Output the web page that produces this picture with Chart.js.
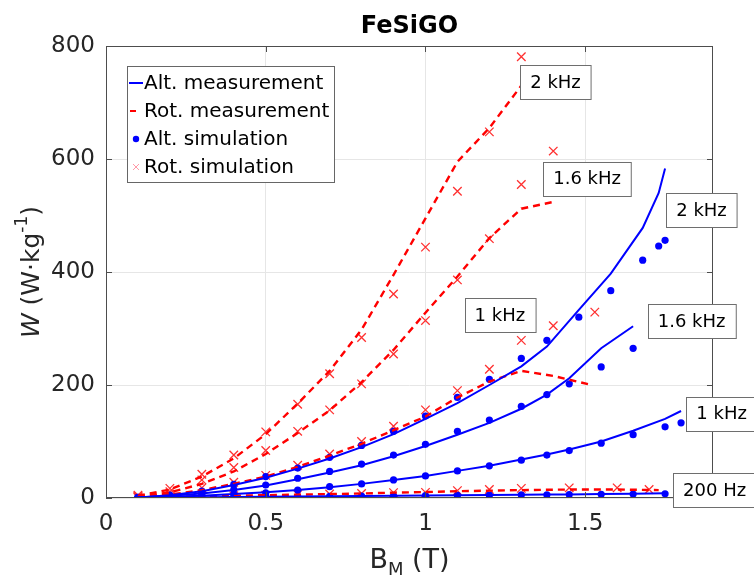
<!DOCTYPE html>
<html>
<head>
<meta charset="utf-8">
<title>FeSiGO</title>
<script src="https://cdn.jsdelivr.net/npm/chart.js@4.4.1/dist/chart.umd.min.js"></script>
<style>
  html, body { margin: 0; padding: 0; background: #fff; }
  #wrap { width: 754px; height: 583px; }
</style>
</head>
<body>
<div id="wrap"><canvas id="lossChart" width="754" height="583"></canvas></div>
<script>
// axis ticks
var xTicks = [0, 0.5, 1, 1.5];
var yTicks = [0, 200, 400, 600, 800];

// alternating field, measurement (solid blue lines)
var altMeas200B = [0.1, 0.2, 0.3, 0.4, 0.5, 0.6, 0.7, 0.8, 0.9, 1.0, 1.1, 1.2, 1.3, 1.38, 1.45, 1.55, 1.65, 1.75];
var altMeas200W = [0.3, 0.8, 1.3, 1.8, 2.3, 2.8, 3.2, 3.6, 4.0, 4.4, 4.8, 5.2, 5.6, 6.0, 6.4, 7.0, 7.6, 8.2];
var altMeas1kB = [0.1, 0.2, 0.3, 0.4, 0.5, 0.6, 0.7, 0.8, 0.9, 1.0, 1.1, 1.2, 1.3, 1.38, 1.45, 1.55, 1.65, 1.75, 1.8];
var altMeas1kW = [0.5, 2, 4, 7, 10, 14, 19, 25, 32, 39, 48, 57, 68, 77, 86, 100, 119, 140, 154];
var altMeas16B = [0.1, 0.2, 0.3, 0.4, 0.5, 0.6, 0.7, 0.8, 0.9, 1.0, 1.1, 1.2, 1.3, 1.38, 1.45, 1.55, 1.65];
var altMeas16W = [1, 4, 8, 14, 22, 33, 45, 58, 74, 92, 112, 133, 158, 183, 212, 265, 304];
var altMeas2kB = [0.1, 0.2, 0.3, 0.4, 0.5, 0.6, 0.7, 0.8, 0.9, 1.0, 1.1, 1.2, 1.3, 1.38, 1.48, 1.58, 1.68, 1.73, 1.75];
var altMeas2kW = [1, 5, 12, 23, 36, 52, 70, 90, 113, 140, 168, 200, 233, 268, 333, 397, 478, 540, 583];

// alternating field, simulation (blue dots)
var altSim200B = [0.1, 0.2, 0.3, 0.4, 0.5, 0.6, 0.7, 0.8, 0.9, 1.0, 1.1, 1.2, 1.3, 1.38, 1.45, 1.55, 1.65, 1.75];
var altSim200W = [0.3, 0.7, 1.2, 1.7, 2.2, 2.6, 3.0, 3.4, 3.8, 4.2, 4.6, 5.0, 5.4, 5.7, 6.0, 6.5, 7.0, 7.5];
var altSim1kB = [0.1, 0.2, 0.3, 0.4, 0.5, 0.6, 0.7, 0.8, 0.9, 1.0, 1.1, 1.2, 1.3, 1.38, 1.45, 1.55, 1.65, 1.75, 1.8];
var altSim1kW = [0.5, 2, 4, 6, 9, 14, 20, 25, 32, 39, 48, 57, 67, 76, 84, 97, 112, 126, 133];
var altSim16B = [0.1, 0.2, 0.3, 0.4, 0.5, 0.6, 0.7, 0.8, 0.9, 1.0, 1.1, 1.2, 1.3, 1.38, 1.45, 1.55, 1.65];
var altSim16W = [1, 3, 7, 15, 23, 35, 47, 60, 76, 95, 118, 138, 162, 183, 202, 232, 265];
var altSim2kB = [0.1, 0.2, 0.3, 0.4, 0.5, 0.6, 0.7, 0.8, 0.9, 1.0, 1.1, 1.2, 1.3, 1.38, 1.48, 1.58, 1.68, 1.73, 1.75];
var altSim2kW = [1, 5, 12, 24, 38, 53, 72, 93, 118, 145, 178, 210, 247, 279, 320, 367, 421, 446, 456];

// rotational field, measurement (dashed red lines)
var rotMeas200B = [0.1, 0.2, 0.3, 0.4, 0.5, 0.6, 0.7, 0.8, 0.9, 1.0, 1.1, 1.2, 1.3, 1.45, 1.6, 1.73];
var rotMeas200W = [1, 2, 3, 4, 5, 6, 7, 8, 9.5, 10.5, 12, 13, 14, 15, 15, 14];
var rotMeas1kB = [0.1, 0.2, 0.3, 0.4, 0.5, 0.6, 0.7, 0.8, 0.9, 1.0, 1.1, 1.2, 1.3, 1.4, 1.52];
var rotMeas1kW = [2, 6, 14, 25, 38, 55, 75, 96, 120, 144, 178, 206, 225, 216, 200];
var rotMeas16B = [0.1, 0.2, 0.3, 0.4, 0.5, 0.6, 0.7, 0.8, 0.9, 1.0, 1.1, 1.2, 1.3, 1.4];
var rotMeas16W = [3, 10, 25, 47, 78, 115, 155, 205, 262, 328, 392, 460, 512, 524];
var rotMeas2kB = [0.1, 0.2, 0.3, 0.4, 0.5, 0.6, 0.7, 0.8, 0.9, 1.0, 1.1, 1.2, 1.3];
var rotMeas2kW = [4, 15, 38, 70, 113, 167, 225, 298, 395, 495, 595, 655, 730];

// rotational field, simulation (red crosses)
var rotSim200B = [0.1, 0.2, 0.3, 0.4, 0.5, 0.6, 0.7, 0.8, 0.9, 1.0, 1.1, 1.2, 1.3, 1.45, 1.6, 1.7];
var rotSim200W = [1, 2, 3, 4, 5, 6, 7, 8, 9.5, 10, 13, 15, 17, 18, 18, 15];
var rotSim1kB = [0.1, 0.2, 0.3, 0.4, 0.5, 0.6, 0.7, 0.8, 0.9, 1.0, 1.1, 1.2, 1.3, 1.4, 1.53];
var rotSim1kW = [2, 7, 18, 28, 40, 58, 78, 100, 127, 156, 190, 228, 279, 305, 329];
var rotSim16B = [0.1, 0.2, 0.3, 0.4, 0.5, 0.6, 0.7, 0.8, 0.9, 1.0, 1.1, 1.2, 1.3, 1.4];
var rotSim16W = [3, 11, 32, 54, 84, 118, 156, 202, 255, 314, 386, 459, 555, 614];
var rotSim2kB = [0.1, 0.2, 0.3, 0.4, 0.5, 0.6, 0.7, 0.8, 0.9, 1.0, 1.1, 1.2, 1.3];
var rotSim2kW = [5, 17, 42, 76, 117, 166, 220, 284, 361, 444, 543, 648, 781];

// frequency labels (anchored in data units)
var noteText = ['2 kHz', '1.6 kHz', '2 kHz', '1 kHz', '1.6 kHz', '1 kHz', '200 Hz'];
var noteB = [1.407, 1.506, 1.864, 1.233, 1.833, 1.927, 1.905];
var noteW = [736, 565, 510, 324, 313, 149, 14];

var BLUE = '#0000ff';
var RED = '#ff0000';
var FONT = '"DejaVu Sans", Arial, sans-serif';

function pts(bs, ws) {
    return bs.map(function (b, i) { return { x: b, y: ws[i] }; });
}

function altLine(bs, ws) {
    return { data: pts(bs, ws), borderColor: BLUE, borderWidth: 2, pointRadius: 0, showLine: true, tension: 0 };
}
function rotLine(bs, ws) {
    return { data: pts(bs, ws), borderColor: RED, borderWidth: 2.4, borderDash: [7, 5], pointRadius: 0, showLine: true, tension: 0 };
}
function altDots(bs, ws) {
    return { data: pts(bs, ws), showLine: false, pointStyle: 'circle', pointRadius: 3.6, backgroundColor: BLUE, borderColor: BLUE, borderWidth: 0 };
}
function rotCross(bs, ws) {
    return { data: pts(bs, ws), showLine: false, pointStyle: 'crossRot', pointRadius: 6, borderColor: '#ff3030', borderWidth: 1.3 };
}

function richText(ctx, parts, cx, cy) {
    var total = 0;
    parts.forEach(function (p) { ctx.font = p.font; total += ctx.measureText(p.t).width; });
    var x = cx - total / 2;
    parts.forEach(function (p) {
        ctx.font = p.font;
        ctx.fillText(p.t, x, cy + (p.dy || 0));
        x += ctx.measureText(p.t).width;
    });
}

var decor = {
    id: 'decor',
    afterDraw: function (chart) {
        var ctx = chart.ctx, a = chart.chartArea, sx = chart.scales.x, sy = chart.scales.y;
        ctx.save();

        // box and inward ticks
        ctx.strokeStyle = '#4d4d4d';
        ctx.lineWidth = 1;
        ctx.strokeRect(Math.round(a.left) + 0.5, Math.round(a.top) + 0.5, Math.round(a.right - a.left) - 1, Math.round(a.bottom - a.top) - 1);
        ctx.beginPath();
        xTicks.forEach(function (v) {
            var px = Math.round(sx.getPixelForValue(v)) + 0.5;
            ctx.moveTo(px, a.bottom); ctx.lineTo(px, a.bottom - 6);
            ctx.moveTo(px, a.top); ctx.lineTo(px, a.top + 6);
        });
        yTicks.forEach(function (v) {
            var py = Math.round(sy.getPixelForValue(v)) + 0.5;
            ctx.moveTo(a.left, py); ctx.lineTo(a.left + 6, py);
            ctx.moveTo(a.right, py); ctx.lineTo(a.right - 6, py);
        });
        ctx.stroke();

        // title
        ctx.fillStyle = '#000';
        ctx.textAlign = 'center';
        ctx.textBaseline = 'middle';
        ctx.font = 'bold 24px ' + FONT;
        ctx.fillText('FeSiGO', (a.left + a.right) / 2, 27);

        // axis titles
        ctx.fillStyle = '#262626';
        ctx.textAlign = 'left';
        richText(ctx, [
            { t: 'B', font: '27px ' + FONT },
            { t: 'M', font: '18px ' + FONT, dy: 9 },
            { t: ' (T)', font: '27px ' + FONT }
        ], (a.left + a.right) / 2, 561);

        ctx.save();
        ctx.translate(32, (a.top + a.bottom) / 2);
        ctx.rotate(-Math.PI / 2);
        richText(ctx, [
            { t: 'W', font: 'italic 25px ' + FONT },
            { t: ' (W\u00b7kg', font: '25px ' + FONT },
            { t: '-1', font: '17px ' + FONT, dy: -9 },
            { t: ')', font: '25px ' + FONT }
        ], 0, 0);
        ctx.restore();

        // legend
        var lx = 127, ly = 66, lw = 207, lh = 116;
        ctx.fillStyle = '#fff';
        ctx.fillRect(lx, ly, lw, lh);
        ctx.strokeStyle = '#666';
        ctx.strokeRect(lx + 0.5, ly + 0.5, lw, lh);
        var rows = [83, 111, 139, 167];
        var names = ['Alt. measurement', 'Rot. measurement', 'Alt. simulation', 'Rot. simulation'];
        ctx.lineWidth = 2;
        ctx.strokeStyle = BLUE;
        ctx.beginPath(); ctx.moveTo(129, rows[0]); ctx.lineTo(143, rows[0]); ctx.stroke();
        ctx.strokeStyle = RED;
        ctx.beginPath(); ctx.moveTo(130, rows[1]); ctx.lineTo(136, rows[1]); ctx.stroke();
        ctx.fillStyle = BLUE;
        ctx.beginPath(); ctx.arc(136, rows[2], 3.2, 0, Math.PI * 2); ctx.fill();
        ctx.strokeStyle = '#ff9aa8';
        ctx.lineWidth = 1;
        ctx.beginPath();
        ctx.moveTo(133, rows[3] - 3); ctx.lineTo(139, rows[3] + 3);
        ctx.moveTo(139, rows[3] - 3); ctx.lineTo(133, rows[3] + 3);
        ctx.stroke();
        ctx.fillStyle = '#000';
        ctx.font = '20px ' + FONT;
        ctx.textBaseline = 'middle';
        names.forEach(function (n, i) { ctx.fillText(n, 144, rows[i] + 1); });

        // frequency labels
        ctx.font = '18px ' + FONT;
        ctx.textAlign = 'center';
        noteText.forEach(function (t, i) {
            var cx = sx.getPixelForValue(noteB[i]);
            var cy = sy.getPixelForValue(noteW[i]);
            var w = ctx.measureText(t).width + 20, h = 34;
            var bx = Math.round(cx - w / 2) + 0.5, by = Math.round(cy - h / 2) + 0.5;
            ctx.fillStyle = '#fff';
            ctx.fillRect(bx, by, w, h);
            ctx.strokeStyle = '#6e6e6e';
            ctx.lineWidth = 1;
            ctx.strokeRect(bx, by, w, h);
            ctx.fillStyle = '#000';
            ctx.fillText(t, cx, cy + 1);
        });

        ctx.restore();
    }
};

var ctx = document.getElementById('lossChart').getContext('2d');
var lossChart = new Chart(ctx, {
    type: 'scatter',
    data: {
        datasets: [
            altLine(altMeas200B, altMeas200W),
            altLine(altMeas1kB, altMeas1kW),
            altLine(altMeas16B, altMeas16W),
            altLine(altMeas2kB, altMeas2kW),
            rotLine(rotMeas200B, rotMeas200W),
            rotLine(rotMeas1kB, rotMeas1kW),
            rotLine(rotMeas16B, rotMeas16W),
            rotLine(rotMeas2kB, rotMeas2kW),
            altDots(altSim200B, altSim200W),
            altDots(altSim1kB, altSim1kW),
            altDots(altSim16B, altSim16W),
            altDots(altSim2kB, altSim2kW),
            rotCross(rotSim200B, rotSim200W),
            rotCross(rotSim1kB, rotSim1kW),
            rotCross(rotSim16B, rotSim16W),
            rotCross(rotSim2kB, rotSim2kW)
        ]
    },
    options: {
        responsive: false,
        animation: false,
        layout: { padding: { top: 46, right: 41, left: 0, bottom: 0 } },
        plugins: {
            legend: { display: false },
            tooltip: { enabled: false },
            title: { display: false }
        },
        scales: {
            x: {
                type: 'linear',
                min: 0,
                max: 1.9,
                afterBuildTicks: function (s) { s.ticks = xTicks.map(function (v) { return { value: v }; }); },
                afterFit: function (s) { s.height = 85; },
                grid: { color: '#e6e6e6', drawTicks: false },
                border: { display: false },
                ticks: {
                    padding: 12,
                    color: '#262626',
                    font: { family: 'DejaVu Sans', size: 23 },
                    callback: function (v) { return String(v); }
                }
            },
            y: {
                min: 0,
                max: 800,
                afterBuildTicks: function (s) { s.ticks = yTicks.map(function (v) { return { value: v }; }); },
                afterFit: function (s) { s.width = 106; },
                grid: { color: '#e6e6e6', drawTicks: false },
                border: { display: false },
                ticks: {
                    padding: 11,
                    color: '#262626',
                    font: { family: 'DejaVu Sans', size: 23 }
                }
            }
        }
    },
    plugins: [decor]
});
</script>
</body>
</html>
